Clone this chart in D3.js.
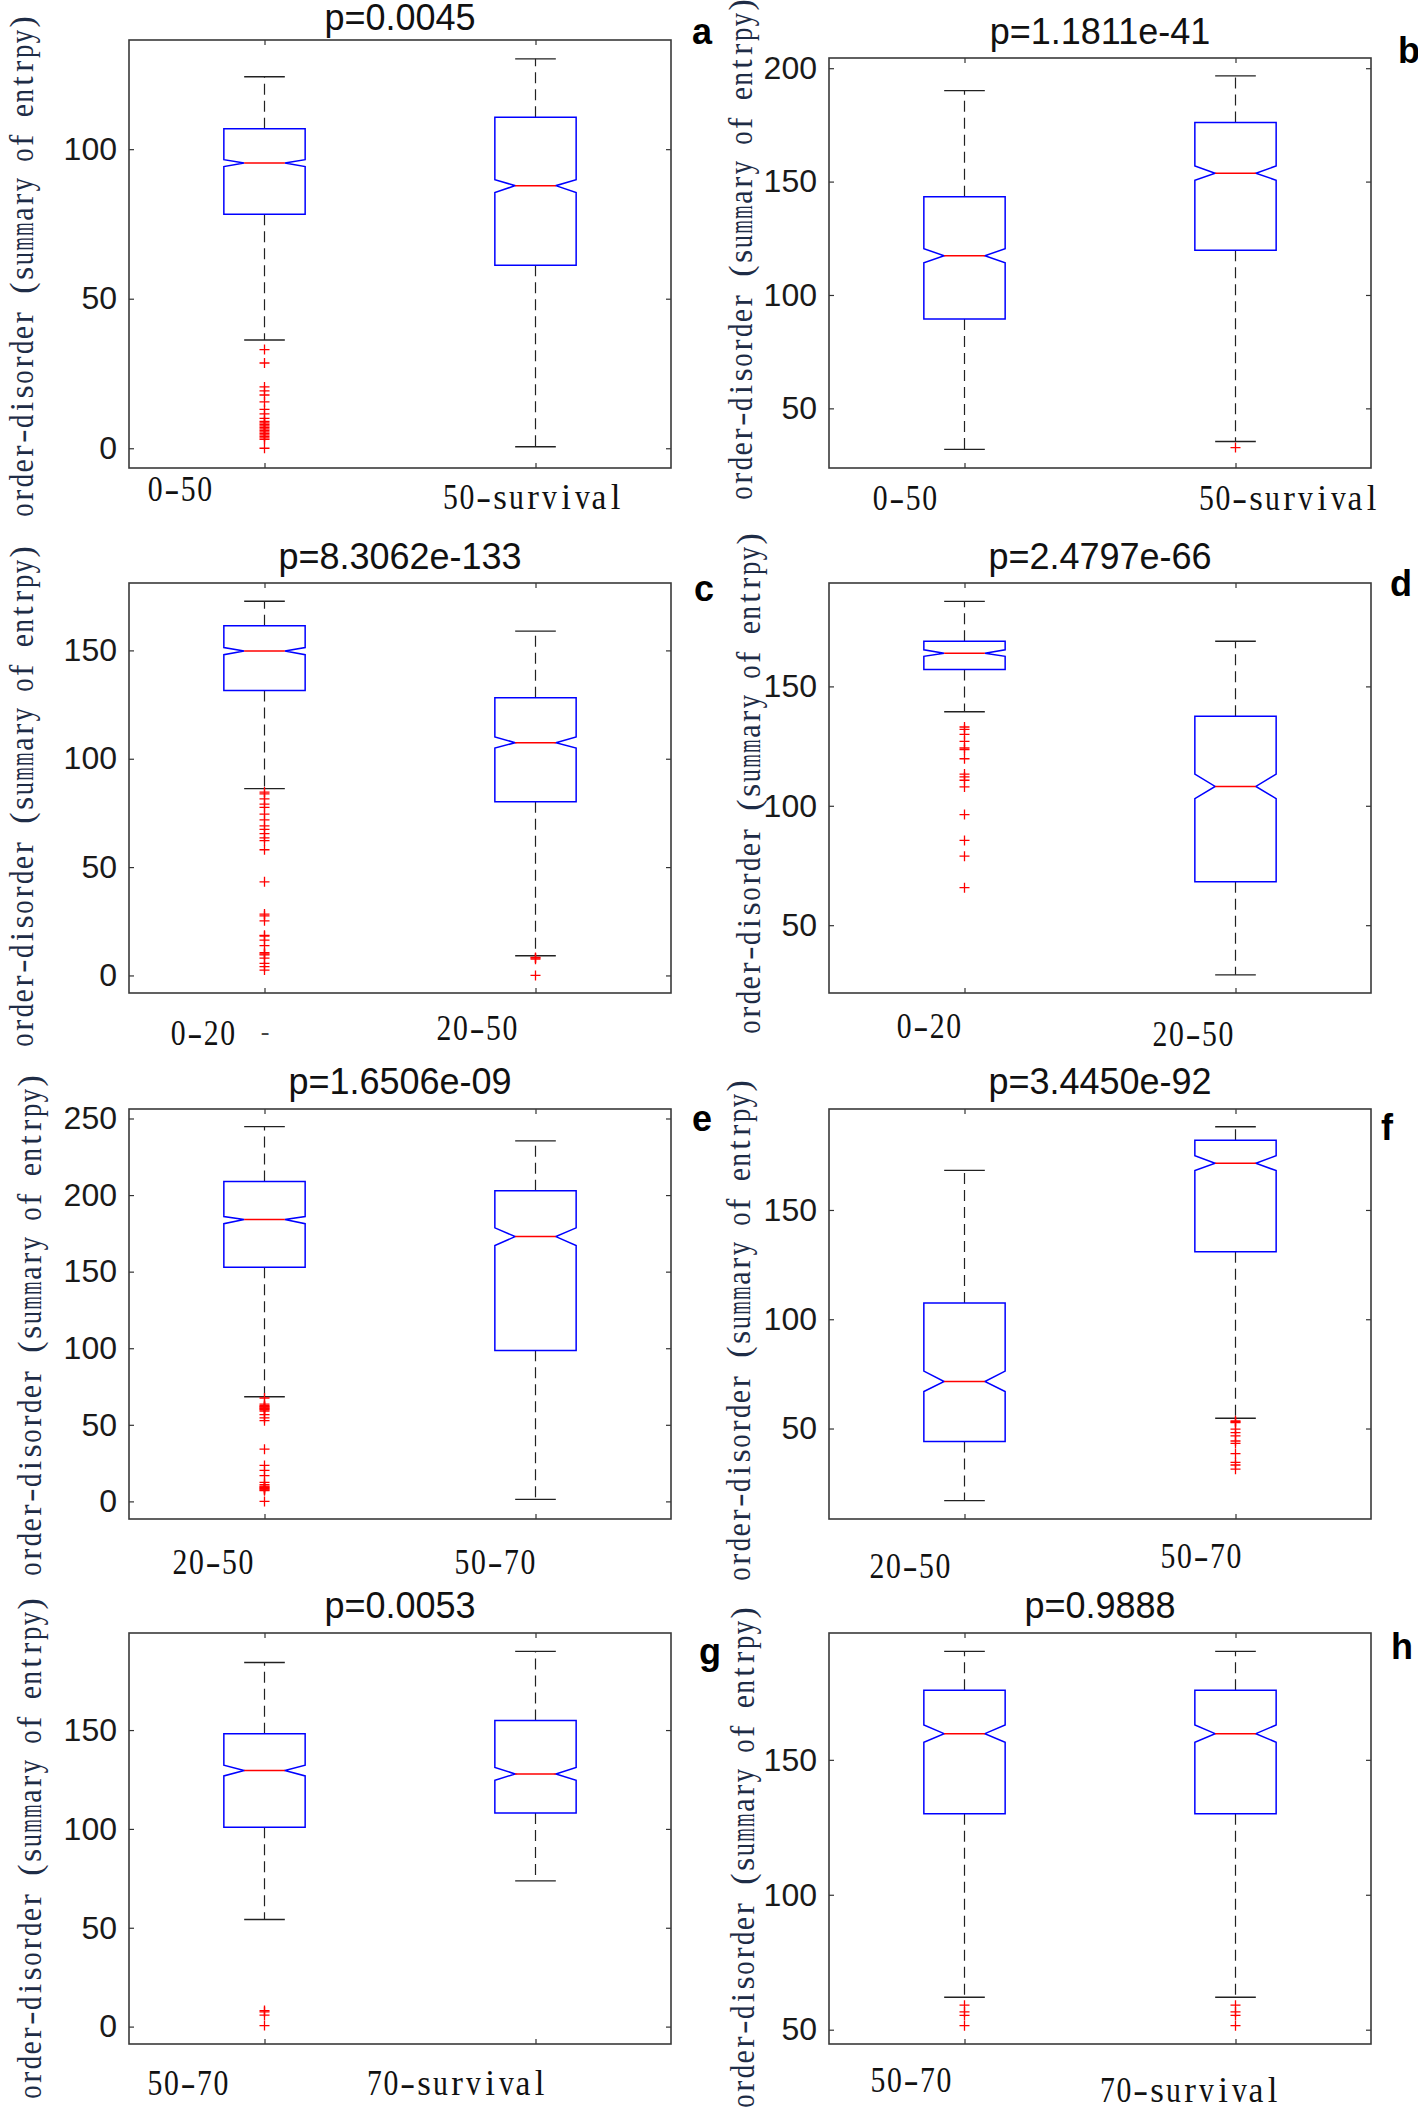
<!DOCTYPE html>
<html>
<head>
<meta charset="utf-8">
<script src="https://cdn.jsdelivr.net/npm/d3@7"></script>
<style>
  html, body { margin: 0; padding: 0; background: #fff; }
  svg { display: block; }
</style>
</head>
<body>
<svg id="chart" width="1418" height="2111"></svg>
<script>
// ---------------- DATA ----------------
const panelLetters = ["a", "b", "c", "d", "e", "f", "g", "h"];
const pValueTitles = ["p=0.0045", "p=1.1811e-41", "p=8.3062e-133", "p=2.4797e-66",
                      "p=1.6506e-09", "p=3.4450e-92", "p=0.0053", "p=0.9888"];
const groupNames = [["0-50", "50-survival"], ["0-50", "50-survival"], ["0-20", "20-50"], ["0-20", "20-50"],
                    ["20-50", "50-70"], ["20-50", "50-70"], ["50-70", "70-survival"], ["50-70", "70-survival"]];
const yAxisTitle = "order-disorder (summary of entrpy)";
const yTicks = [[0, 50, 100], [50, 100, 150, 200], [0, 50, 100, 150], [50, 100, 150],
                [0, 50, 100, 150, 200, 250], [50, 100, 150], [0, 50, 100, 150], [50, 100, 150]];
const yLimits = [[-6.6, 136.5], [23.7, 204.5], [-8.1, 181.1], [21.6, 193.3],
                 [-11.5, 256.2], [8.6, 196.2], [-8.8, 199.1], [44.7, 197.0]];
const upperWhisker = [[124.2, 130.2], [190.1, 196.6], [172.7, 158.9], [185.6, 168.9],
                      [244.7, 235.4], [168.1, 188.1], [184.2, 189.8], [190.2, 190.2]];
const q3 = [[106.8, 110.7], [143.3, 176.1], [161.4, 128.2], [168.9, 137.5],
            [208.8, 202.8], [107.4, 181.9], [148.1, 154.9], [175.8, 175.8]];
const notchHigh = [[96.5, 89.8], [120.4, 156.9], [151.3, 110.1], [165.3, 113.3],
                   [186.0, 178.6], [76.3, 174.8], [132.2, 131.1], [162.9, 162.9]];
const medians = [[95.4, 87.8], [117.3, 153.7], [149.7, 107.4], [163.9, 108.1],
                 [184.0, 172.9], [71.5, 171.4], [129.5, 127.8], [159.7, 159.7]];
const notchLow = [[94.2, 85.5], [114.2, 150.6], [148.0, 104.9], [162.6, 103.0],
                  [181.3, 167.1], [66.9, 168.0], [126.8, 124.6], [156.5, 156.5]];
const q1 = [[78.2, 61.2], [89.4, 119.7], [131.5, 80.2], [157.1, 68.2],
            [152.9, 98.6], [44.1, 130.9], [100.9, 108.0], [130.0, 130.0]];
const lowerWhisker = [[36.2, 0.5], [31.9, 35.4], [86.2, 9.1], [139.4, 29.2],
                      [68.3, 1.3], [17.0, 54.7], [54.2, 73.7], [62.0, 62.0]];
const outliers = [
  [[33, 28.5, 20.5, 19.2, 17.8, 15.5, 13, 11.5, 10, 9, 8.5, 8, 7.5, 7, 6.5, 6, 5.5, 5, 4.5, 4, 3.5, 3, 0], []],
  [[], [32.7]],
  [[84.6, 83.8, 81.5, 79.1, 77.6, 74.4, 71.8, 69.0, 67.4, 65.4, 63.5, 62.2, 58.0, 43.2, 28.3, 27.5, 25.2,
    18.5, 18.1, 16.3, 13.8, 10.5, 10.0, 9.5, 8.0, 5.6, 4.1, 2.5], [8.3, 8.0, 7.5, 0]],
  [[133.0, 132.0, 129.9, 127.0, 124.2, 123.5, 119.7, 113.3, 112.1, 110.7, 107.9, 96.3, 85.5, 78.9, 65.7], []],
  [[67.5, 63.5, 62.5, 62, 61.5, 61, 60.5, 60, 59, 56.7, 54.5, 52.7, 34.1, 23.5, 20.2, 16.8, 12.4,
    11, 10, 9.5, 9, 8.5, 8, 7.5, 7, 0], []],
  [[], [53.5, 53.1, 52.7, 49.7, 48.1, 46.6, 44.3, 43.2, 38.5, 34.5, 33.3, 31.4]],
  [[8.1, 7.5, 5.8, 0.5], []],
  [[59.1, 56.6, 55.3, 51.5], [59.1, 56.6, 55.3, 51.5]]
];

// ---------------- LAYOUT ----------------
const frames = [
  {x0: 129, x1: 671, y0: 40, y1: 468},
  {x0: 829, x1: 1371, y0: 58, y1: 468},
  {x0: 129, x1: 671, y0: 583, y1: 993},
  {x0: 829, x1: 1371, y0: 583, y1: 993},
  {x0: 129, x1: 671, y0: 1109, y1: 1519},
  {x0: 829, x1: 1371, y0: 1109, y1: 1519},
  {x0: 129, x1: 671, y0: 1633, y1: 2044},
  {x0: 829, x1: 1371, y0: 1633, y1: 2044}
];
const titleY = [30, 44, 569, 569, 1094, 1094, 1618, 1618];
const letterPos = [[692, 44], [1398, 63], [694, 601], [1390, 596], [692, 1131], [1381, 1140], [699, 1664], [1391, 1659]];
const catLabelPos = [
  [[180, 501], [533, 509]], [[905, 510], [1289, 510]],
  [[203, 1045], [477, 1040]], [[929, 1038], [1193, 1046]],
  [[213, 1574], [495, 1574]], [[910, 1578], [1201, 1568]],
  [[188, 2095], [457, 2095]], [[911, 2092], [1190, 2102]]
];
const yLabelPos = [[33, 266], [752, 249], [33, 796], [760, 783], [41, 1325], [750, 1330], [41, 1848], [754, 1857]];

const svg = d3.select("#chart");
const sansFont = "'Liberation Sans', Arial, Helvetica, sans-serif";
const serifFont = "'Liberation Serif', 'Times New Roman', serif";

// draw a string with every character in an equal-width cell (half-width CJK-font look)
function monoText(parent, str, adv, fontSize, color) {
  const n = str.length;
  const t = parent.append("text")
    .attr("font-family", serifFont).attr("font-size", fontSize).attr("fill", color)
    .attr("text-anchor", "middle");
  const chars = Array.from(str);
  chars.forEach((ch, k) => {
    const cx = (k - (n - 1) / 2) * adv;
    const sp = t.append("tspan").attr("x", cx.toFixed(2)).attr("y", 0).text(ch);
  });
  // adjust individual glyph widths so they fit their cells
  t.selectAll("tspan").each(function (d, k) {
    const ch = chars[k];
    if (ch === " ") return;
    const w = this.getComputedTextLength();
    let target = null;
    if (ch === "-") target = adv * 0.92;
    else if (w > adv * 0.9) target = adv * 0.9;
    if (target !== null) {
      d3.select(this).attr("textLength", target.toFixed(2)).attr("lengthAdjust", "spacingAndGlyphs");
    }
  });
  return t;
}

panelLetters.forEach((letter, i) => {
  const f = frames[i];
  const g = svg.append("g");
  const x = d3.scaleLinear().domain([0.5, 2.5]).range([f.x0, f.x1]);
  const y = d3.scaleLinear().domain(yLimits[i]).range([f.y1, f.y0]);

  // axes with inward ticks
  const left = g.append("g").attr("transform", `translate(${f.x0},0)`)
    .call(d3.axisLeft(y).tickValues(yTicks[i]).tickSizeInner(-5).tickSizeOuter(0).tickPadding(12));
  const right = g.append("g").attr("transform", `translate(${f.x1},0)`)
    .call(d3.axisRight(y).tickValues(yTicks[i]).tickSizeInner(-5).tickSizeOuter(0).tickFormat(""));
  const bottom = g.append("g").attr("transform", `translate(0,${f.y1})`)
    .call(d3.axisBottom(x).tickValues([1, 2]).tickSizeInner(-5).tickSizeOuter(0).tickFormat(""));
  const top = g.append("g").attr("transform", `translate(0,${f.y0})`)
    .call(d3.axisTop(x).tickValues([1, 2]).tickSizeInner(-5).tickSizeOuter(0).tickFormat(""));
  [left, right, bottom, top].forEach(a => {
    a.select(".domain").remove();
    a.selectAll(".tick line").attr("stroke", "#333").attr("stroke-width", 1.2);
  });
  left.selectAll(".tick text")
    .attr("font-family", sansFont).attr("font-size", 32).attr("fill", "#1a1a1a");

  // frame
  g.append("rect")
    .attr("x", f.x0).attr("y", f.y0)
    .attr("width", f.x1 - f.x0).attr("height", f.y1 - f.y0)
    .attr("fill", "none").attr("stroke", "#3a3a3a").attr("stroke-width", 1.6);

  const hw = x(1.15) - x(1);   // box half width
  const cw = hw / 2;           // cap / notch half width

  [0, 1].forEach(j => {
    const cx = x(j + 1);
    // whiskers (dashed)
    g.append("line").attr("x1", cx).attr("x2", cx)
      .attr("y1", y(q3[i][j])).attr("y2", y(upperWhisker[i][j]))
      .attr("stroke", "#222").attr("stroke-width", 1.2).attr("stroke-dasharray", "11,6");
    g.append("line").attr("x1", cx).attr("x2", cx)
      .attr("y1", y(q1[i][j])).attr("y2", y(lowerWhisker[i][j]))
      .attr("stroke", "#222").attr("stroke-width", 1.2).attr("stroke-dasharray", "11,6");
    // caps
    [upperWhisker[i][j], lowerWhisker[i][j]].forEach(v => {
      g.append("line").attr("x1", cx - cw).attr("x2", cx + cw)
        .attr("y1", y(v)).attr("y2", y(v))
        .attr("stroke", "#222").attr("stroke-width", 1.4);
    });
    // notched box
    const pts = [
      [cx - hw, y(q1[i][j])], [cx - hw, y(notchLow[i][j])], [cx - cw, y(medians[i][j])],
      [cx - hw, y(notchHigh[i][j])], [cx - hw, y(q3[i][j])], [cx + hw, y(q3[i][j])],
      [cx + hw, y(notchHigh[i][j])], [cx + cw, y(medians[i][j])], [cx + hw, y(notchLow[i][j])],
      [cx + hw, y(q1[i][j])]
    ];
    g.append("path").attr("d", d3.line()(pts) + "Z")
      .attr("fill", "none").attr("stroke", "#0000ff").attr("stroke-width", 1.5);
    // median
    g.append("line").attr("x1", cx - cw).attr("x2", cx + cw)
      .attr("y1", y(medians[i][j])).attr("y2", y(medians[i][j]))
      .attr("stroke", "#ff0000").attr("stroke-width", 1.5);
    // outliers
    g.selectAll(null).data(outliers[i][j]).enter().append("path")
      .attr("d", v => `M${cx - 5},${y(v)}H${cx + 5}M${cx},${y(v) - 5}V${y(v) + 5}`)
      .attr("stroke", "#ff0000").attr("stroke-width", 1.3).attr("fill", "none");

    // category label
    const [lx, ly] = catLabelPos[i][j];
    const lg = g.append("g").attr("transform", `translate(${lx},${ly})`);
    monoText(lg, groupNames[i][j], 16.5, 35, "#111");
  });

  // title
  g.append("text").attr("x", (f.x0 + f.x1) / 2).attr("y", titleY[i])
    .attr("text-anchor", "middle")
    .attr("font-family", sansFont).attr("font-size", 36).attr("fill", "#111")
    .text(pValueTitles[i]);

  // panel letter
  g.append("text").attr("x", letterPos[i][0]).attr("y", letterPos[i][1])
    .attr("font-family", sansFont).attr("font-weight", "bold").attr("font-size", 36).attr("fill", "#000")
    .text(letter);

  // y-axis title
  const [yx, yy] = yLabelPos[i];
  const yg = g.append("g").attr("transform", `translate(${yx},${yy}) rotate(-90)`);
  monoText(yg, yAxisTitle, 14.8, 34, "#1e2c46");
});

// small stray dash below panel c's first category, as in the original
svg.append("text").attr("x", 265).attr("y", 1040).attr("text-anchor", "middle")
  .attr("font-family", serifFont).attr("font-size", 26).attr("fill", "#444").text("-");
</script>
</body>
</html>
